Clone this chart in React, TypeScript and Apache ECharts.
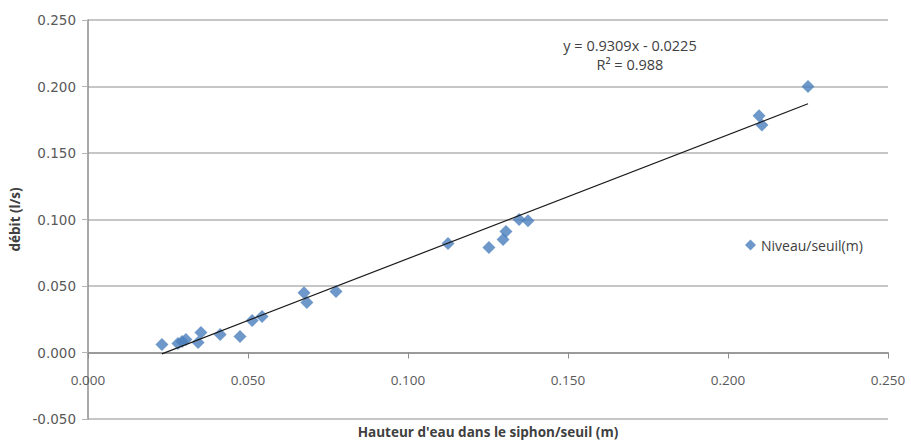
import React, { useEffect, useRef } from "react";
import * as echarts from "echarts";

const pointsX = [0.0231, 0.0281, 0.0294, 0.0306, 0.0344, 0.0353, 0.0413, 0.0475, 0.0513, 0.0544, 0.0675, 0.0684, 0.0775, 0.1125, 0.1253, 0.1297, 0.1306, 0.1347, 0.1375, 0.2097, 0.2106, 0.225];
const pointsY = [0.006, 0.0068, 0.0083, 0.0098, 0.0075, 0.015, 0.0135, 0.012, 0.024, 0.027, 0.045, 0.0376, 0.0459, 0.082, 0.079, 0.085, 0.091, 0.1, 0.099, 0.178, 0.171, 0.2];
const trendX = [0.0231, 0.225];
const trendY = [-0.001, 0.187];
const seriesName = "Niveau/seuil(m)";
const equationLine1 = "y = 0.9309x - 0.0225";
const equationLine2 = "R² = 0.988";
const xTitle = "Hauteur d'eau dans le siphon/seuil (m)";
const yTitle = "débit (l/s)";

export default function App() {
  const ref = useRef<HTMLDivElement>(null);
  useEffect(() => {
    if (!ref.current) return;
    const chart = echarts.init(ref.current, null, { renderer: "svg" });
    const fmt = (v: number) => {
      const r = Math.round(v * 1000) / 1000;
      return r.toFixed(3);
    };
    chart.setOption({
      animation: false,
      backgroundColor: "#ffffff",
      grid: {
        left: 88,
        right: 23,
        top: 20,
        bottom: 22,
        containLabel: false,
        outerBoundsMode: "none",
      },
      legend: {
        data: [{ name: seriesName, icon: "diamond" }],
        left: 740,
        top: 233,
        itemWidth: 11,
        itemHeight: 11,
        itemGap: 2,
        textStyle: { fontFamily: "Open Sans", fontSize: 14, color: "#404040" },
      },
      xAxis: {
        type: "value",
        min: 0,
        max: 0.25,
        interval: 0.05,
        name: xTitle,
        nameLocation: "middle",
        nameGap: 72,
        offset: -66.5,
        nameTextStyle: { fontFamily: "Open Sans", fontSize: 13.5, fontWeight: "bold", color: "#404040" },
        axisLine: { onZero: false, lineStyle: { color: "#8c8c8c", width: 1.5 } },
        axisTick: { show: true, length: 6, lineStyle: { color: "#8c8c8c" } },
        axisLabel: {
          formatter: fmt,
          margin: 20,
          fontFamily: "Open Sans",
          fontSize: 13.5,
          color: "#595959",
        },
        splitLine: { show: false },
      },
      yAxis: {
        type: "value",
        min: -0.05,
        max: 0.25,
        interval: 0.05,
        name: yTitle,
        nameLocation: "middle",
        nameGap: 62,
        nameTextStyle: { fontFamily: "Open Sans", fontSize: 13.5, fontWeight: "bold", color: "#404040" },
        axisLine: { show: true, onZero: false, lineStyle: { color: "#8c8c8c", width: 1.5 } },
        axisTick: { show: true, length: 6, lineStyle: { color: "#b3b3b3" } },
        axisLabel: {
          formatter: fmt,
          margin: 12,
          fontFamily: "DejaVu Sans",
          fontSize: 13.5,
          color: "#595959",
        },
        splitLine: { show: true, lineStyle: { color: "#b3b3b3", width: 1.5 } },
      },
      graphic: [
        {
          type: "text",
          x: 630,
          y: 45,
          style: {
            text: equationLine1,
            fontFamily: "Open Sans",
            fontSize: 14.5,
            fill: "#404040",
            align: "center",
            verticalAlign: "middle",
          },
        },
        {
          type: "text",
          x: 630,
          y: 64,
          style: {
            text: equationLine2,
            fontFamily: "Open Sans",
            fontSize: 14.5,
            fill: "#404040",
            align: "center",
            verticalAlign: "middle",
          },
        },
      ],
      series: [
        {
          name: seriesName,
          type: "scatter",
          symbol: "diamond",
          symbolSize: 13,
          itemStyle: { color: "#4a7ebb" },
          data: pointsX.map((x, i) => [x, pointsY[i]]),
          z: 3,
        },
        {
          name: "trend",
          type: "line",
          showSymbol: false,
          symbol: "none",
          lineStyle: { color: "#1a1a1a", width: 1.2 },
          data: trendX.map((x, i) => [x, trendY[i]]),
          z: 4,
          silent: true,
        },
      ],
    });
    return () => chart.dispose();
  }, []);
  return (
    <div
      ref={ref}
      style={{ position: "absolute", left: 0, top: 0, width: 911, height: 441 }}
    />
  );
}
